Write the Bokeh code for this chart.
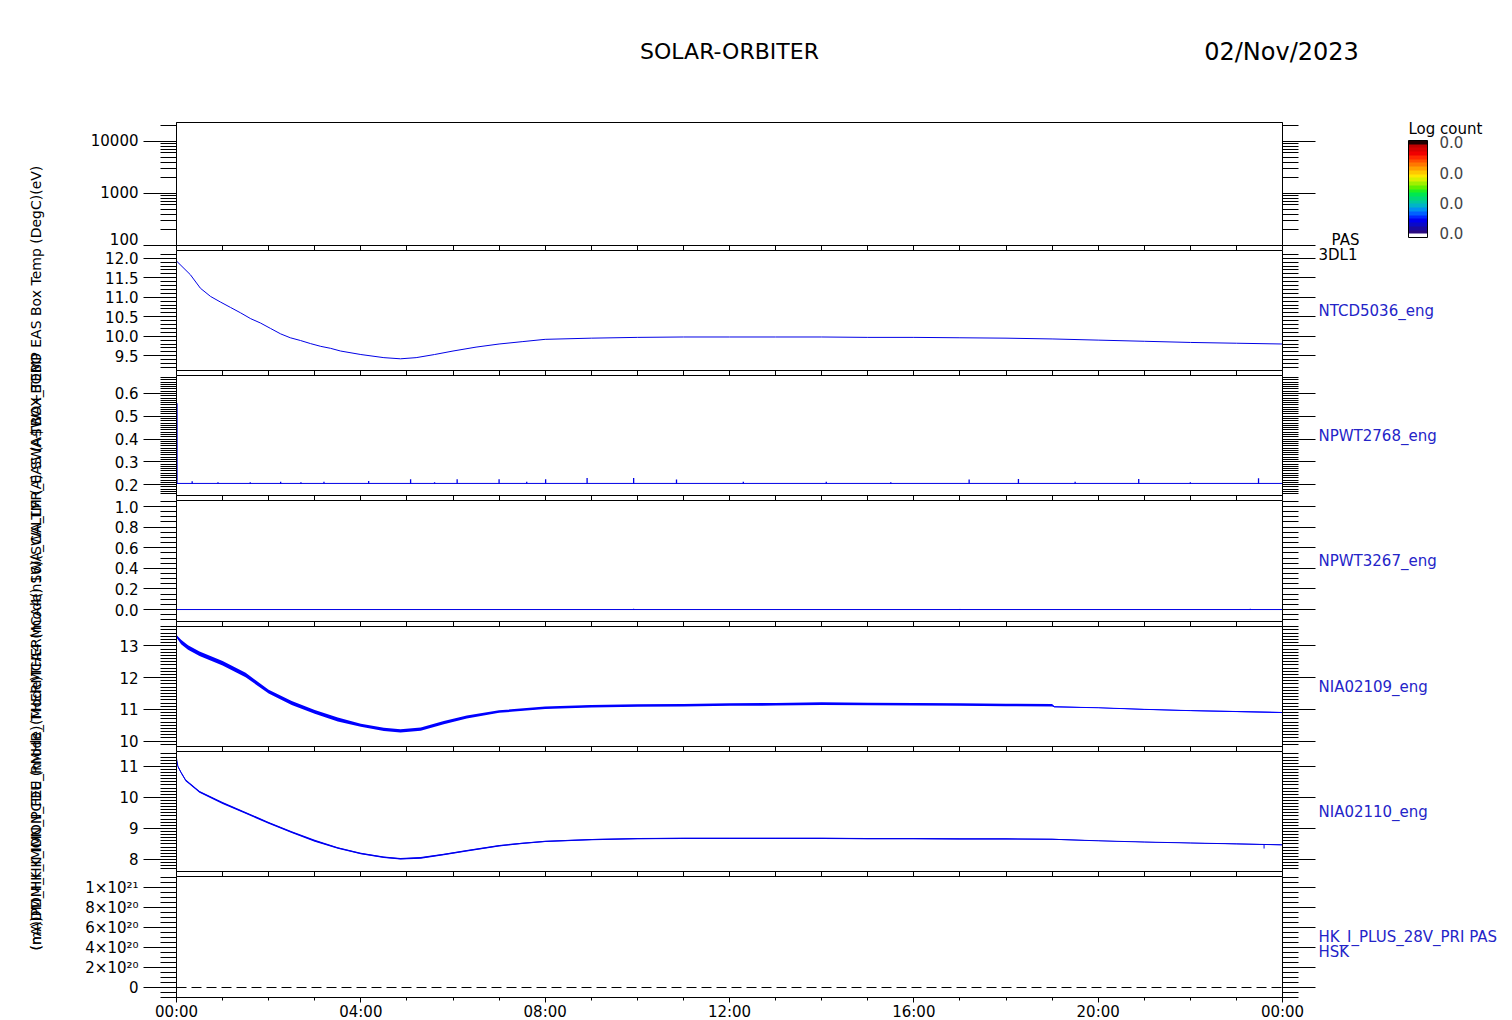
import numpy as np
from bokeh.plotting import figure
from bokeh.layouts import row, column
from bokeh.models import (Range1d, LinearAxis, LogAxis, FixedTicker, Label, ColorBar,
                          LinearColorMapper, CustomJSTickFormatter)
from bokeh.embed import file_html
from bokeh.resources import INLINE

FONT = "DejaVu Sans"
LINE = "#0000e6"
LBLC = "#2424c8"

# ---------------- data ----------------
hour_ticks = [0, 4, 8, 12, 16, 20, 24]
hour_labels = ["00:00", "04:00", "08:00", "12:00", "16:00", "20:00", "00:00"]
hour_minor = list(range(25))

# panel 1: PAS 3DL1 energy spectrogram (no data)
p1_ticks = [100, 1000, 10000]
p1_labels = ["100\n", "1000", "10000"]
p1_range = (100, 23000)

# panel 2: NTCD5036_eng
p2_t = [0.0, 0.3, 0.52, 0.74, 0.95, 1.17, 1.39, 1.61, 1.82, 2.04, 2.26, 2.47, 2.69, 2.91,
        3.13, 3.34, 3.56, 4.0, 4.5, 4.86, 5.2, 5.6, 6.0, 6.5, 7.0, 7.5, 8.0, 9.0, 10.0,
        11.0, 12.0, 13.0, 14.0, 15.0, 16.0, 17.0, 18.0, 19.0, 20.0, 21.0, 22.0, 23.0, 24.0]
p2_v = [11.93, 11.58, 11.23, 11.02, 10.88, 10.74, 10.6, 10.45, 10.34, 10.2, 10.06, 9.96,
        9.89, 9.81, 9.74, 9.69, 9.62, 9.53, 9.45, 9.42, 9.45, 9.53, 9.62, 9.72, 9.8, 9.86,
        9.92, 9.95, 9.97, 9.98, 9.98, 9.98, 9.98, 9.97, 9.97, 9.96, 9.95, 9.93, 9.9, 9.87,
        9.84, 9.82, 9.8]
p2_ticks = [9.5, 10.0, 10.5, 11.0, 11.5, 12.0]
p2_labels = ["9.5", "10.0", "10.5", "11.0", "11.5", "12.0"]
p2_range = (9.12, 12.2)

# panel 3: NPWT2768_eng
p3_base_t = [0.0, 24.0]
p3_base_v = [0.205, 0.205]
p3_spike_t = [0.01, 0.34, 0.9, 1.6, 2.26, 2.7, 3.2, 4.17, 5.08, 5.6, 6.09, 7.0, 7.6, 8.01,
              8.91, 9.92, 10.85, 12.3, 14.1, 15.5, 17.2, 18.27, 19.5, 20.88, 22.0, 23.48]
p3_spike_v = [0.557, 0.215, 0.21, 0.21, 0.212, 0.21, 0.212, 0.216, 0.223, 0.21, 0.223,
              0.223, 0.212, 0.223, 0.229, 0.229, 0.222, 0.212, 0.212, 0.21, 0.222, 0.225,
              0.212, 0.225, 0.21, 0.228]
p3_ticks = [0.2, 0.3, 0.4, 0.5, 0.6]
p3_labels = ["0.2", "0.3", "0.4", "0.5", "0.6"]
p3_range = (0.152, 0.679)

# panel 4: NPWT3267_eng
p4_t = [0.0, 24.0]
p4_v = [0.0, 0.0]
p4_blip_t = [9.92, 17.0, 23.3]
p4_blip_v = [0.008, 0.006, 0.008]
p4_ticks = [0.0, 0.2, 0.4, 0.6, 0.8, 1.0]
p4_labels = ["0.0", "0.2", "0.4", "0.6", "0.8", "1.0"]
p4_range = (-0.116, 1.058)

# panel 5: NIA02109_eng
p5_t = [0.0, 0.1, 0.25, 0.5, 0.75, 1.0, 1.5, 2.0, 2.5, 3.0, 3.5, 4.0, 4.5, 4.86, 5.3, 5.8,
        6.3, 7.0, 8.0, 9.0, 10.0, 11.0, 12.0, 13.0, 14.0, 15.0, 16.0, 17.0, 18.0, 19.0,
        19.05, 20.0, 21.0, 22.0, 23.0, 24.0]
p5_v = [13.3, 13.12, 12.95, 12.75, 12.6, 12.45, 12.08, 11.56, 11.2, 10.92, 10.68, 10.5,
        10.37, 10.32, 10.38, 10.58, 10.76, 10.93, 11.05, 11.1, 11.12, 11.13, 11.15, 11.16,
        11.18, 11.17, 11.16, 11.15, 11.14, 11.13, 11.08, 11.05, 11.0, 10.96, 10.93, 10.9]
p5_lo = [13.26, 13.05, 12.88, 12.68, 12.53, 12.38, 12.01, 11.5, 11.14, 10.86, 10.62, 10.45,
         10.32, 10.27, 10.33, 10.53, 10.71, 10.89, 11.01, 11.06, 11.08, 11.09, 11.11, 11.12,
         11.14, 11.13, 11.12, 11.11, 11.1, 11.09, 11.065, 11.04, 10.985, 10.945, 10.915, 10.885]
p5_hi = [13.34, 13.19, 13.02, 12.82, 12.67, 12.52, 12.15, 11.62, 11.26, 10.98, 10.74, 10.55,
         10.42, 10.37, 10.43, 10.63, 10.81, 10.97, 11.09, 11.14, 11.16, 11.17, 11.19, 11.2,
         11.22, 11.21, 11.2, 11.19, 11.18, 11.17, 11.095, 11.06, 11.015, 10.975, 10.945, 10.915]
p5_ticks = [10, 11, 12, 13]
p5_labels = ["10", "11", "12", "13"]
p5_range = (9.83, 13.61)

# panel 6: NIA02110_eng
p6_t = [0.0, 0.03, 0.1, 0.2, 0.5, 1.0, 1.5, 2.0, 2.5, 3.0, 3.5, 4.0, 4.5, 4.86, 5.3, 5.8,
        6.3, 7.0, 7.5, 8.0, 9.0, 10.0, 11.0, 12.0, 13.0, 14.0, 15.0, 16.0, 17.0, 18.0,
        19.0, 20.0, 21.0, 22.0, 23.0, 24.0]
p6_v = [11.25, 11.0, 10.8, 10.55, 10.18, 9.82, 9.5, 9.18, 8.88, 8.6, 8.37, 8.19, 8.07,
        8.02, 8.05, 8.16, 8.28, 8.44, 8.52, 8.58, 8.64, 8.67, 8.68, 8.68, 8.68, 8.68, 8.67,
        8.67, 8.66, 8.66, 8.65, 8.6, 8.56, 8.53, 8.5, 8.47]
p6_lo = [11.21, 10.97, 10.77, 10.52, 10.15, 9.79, 9.47, 9.15, 8.85, 8.57, 8.345, 8.165, 8.045,
         7.995, 8.025, 8.135, 8.255, 8.415, 8.5, 8.56, 8.62, 8.65, 8.66, 8.66, 8.66, 8.66, 8.65,
         8.65, 8.64, 8.64, 8.635, 8.59, 8.55, 8.52, 8.49, 8.46]
p6_hi = [11.29, 11.03, 10.83, 10.58, 10.21, 9.85, 9.53, 9.21, 8.91, 8.63, 8.395, 8.215, 8.095,
         8.045, 8.075, 8.185, 8.305, 8.465, 8.54, 8.6, 8.66, 8.69, 8.7, 8.7, 8.7, 8.7, 8.69,
         8.69, 8.68, 8.68, 8.665, 8.61, 8.57, 8.54, 8.51, 8.48]
p6_dip_t = [23.6]
p6_dip_base = [8.48]
p6_dip_v = [8.35]
p6_ticks = [8, 9, 10, 11]
p6_labels = ["8", "9", "10", "11"]
p6_range = (7.61, 11.48)

# panel 7: HK_I_PLUS_28V_PRI PAS HSK
p7_t = [0.0, 24.0]
p7_v = [0.0, 0.0]
p7_ticks = [0.0, 2e20, 4e20, 6e20, 8e20, 1e21]
p7_labels = ["0", "2×10²⁰", "4×10²⁰", "6×10²⁰", "8×10²⁰", "1×10²¹"]
p7_range = (-1e20, 1.11e21)

# colour bar
cb_ticks = [0.05, 0.36, 0.67, 0.98]
cb_labels = ["0.0", "0.0", "0.0", "0.0"]
cb_palette = ["#ffffff", "#2a0a80", "#1a0aa0", "#0a0ac8", "#0000f0", "#0028ff", "#0060ff",
              "#0090f0", "#00b4c8", "#00c8a0", "#00d878", "#00e850", "#20f020", "#60f000",
              "#a0f000", "#d8f000", "#ffe800", "#ffc800", "#ffa000", "#ff7800", "#ff5000",
              "#ff2800", "#f00000", "#d80000", "#c00000", "#200000"]

panel_names = [["PAS", "3DL1"], ["NTCD5036_eng"], ["NPWT2768_eng"], ["NPWT3267_eng"],
               ["NIA02109_eng"], ["NIA02110_eng"], ["HK_I_PLUS_28V_PRI PAS", "HSK"]]

left_texts = [
    "(nA)DM_HK_IMON_PCDU (mode) THERMCA4 (mode) SWA_CALTM (A) SWA-TBOX_TEMP EAS Box Temp (DegC)(eV)",
    "(mA)PDM_HK_IMON_FEE_RMHB_(Mode)THERMCA4(n16)(SWA_LFR_EAS (A$WA+BOBO",
]

# ---------------- layout constants ----------------
WIN_W, WIN_H = 1512, 1020
LEFT_W = 60
TITLE_H = 116
P1_TOP = 122
FW = 1106
BL = 116
BR = 36
frame_h = [123, 120, 120, 121, 120, 120, 121]
GAP = 5
BOTTOM = 23
COL_W = BL + FW + BR
RIGHT_X = LEFT_W + COL_W
RIGHT_W = WIN_W - RIGHT_X
RIGHT_H = WIN_H - TITLE_H


def style_axis(ax, tick_out, minor_out, labels):
    ax.axis_line_color = "black"
    ax.major_tick_line_color = "black"
    ax.minor_tick_line_color = "black" if minor_out > 0 else None
    ax.major_tick_out = tick_out
    ax.major_tick_in = 0
    ax.minor_tick_out = minor_out
    ax.minor_tick_in = 0
    ax.major_label_text_font = FONT
    ax.major_label_text_color = "black"
    if labels is not None:
        ax.major_label_text_font_size = "15px"
        ax.major_label_overrides = labels
    else:
        ax.formatter = CustomJSTickFormatter(code='return ""')
        ax.major_label_text_font_size = "1px"
        ax.major_label_standoff = 0


def make_panel(fh, yr, ticks, labels, minor, log=False, top=0, bottom=GAP, last=False,
               line_height=1.2):
    p = figure(frame_width=FW, frame_height=fh,
               x_range=Range1d(0, 24), y_range=Range1d(*yr),
               y_axis_type="log" if log else "linear",
               x_axis_location=None, y_axis_location=None,
               output_backend="svg", toolbar_location=None,
               min_border_left=BL, min_border_right=BR,
               min_border_top=top, min_border_bottom=bottom,
               outline_line_color="black", outline_line_width=1,
               background_fill_color="white", border_fill_color="white")
    p.xgrid.grid_line_color = None
    p.ygrid.grid_line_color = None
    Ax = LogAxis if log else LinearAxis
    la = Ax(ticker=FixedTicker(ticks=ticks, minor_ticks=minor))
    style_axis(la, 33, 16, dict(zip(ticks, labels)))
    la.major_label_standoff = 5
    la.major_label_text_line_height = line_height
    p.add_layout(la, "left")
    ra = Ax(ticker=FixedTicker(ticks=ticks, minor_ticks=minor))
    style_axis(ra, 33, 16, None)
    p.add_layout(ra, "right")
    if last:
        xa = LinearAxis(ticker=FixedTicker(ticks=hour_ticks, minor_ticks=hour_minor))
        style_axis(xa, 5, 3, dict(zip(hour_ticks, hour_labels)))
        xa.major_label_standoff = 0
    else:
        xa = LinearAxis(ticker=FixedTicker(ticks=hour_minor))
        style_axis(xa, 5, 0, None)
    p.add_layout(xa, "below")
    return p


def plain_fig(w, h):
    f = figure(width=w, height=h, x_range=Range1d(0, 1), y_range=Range1d(0, 1),
               x_axis_location=None, y_axis_location=None, output_backend="svg",
               toolbar_location=None, min_border=0, outline_line_color=None,
               border_fill_color="white", background_fill_color="white")
    f.xgrid.grid_line_color = None
    f.ygrid.grid_line_color = None
    return f


def txt(f, x, y, text, size="15px", color="black", align="left", angle=0.0):
    f.add_layout(Label(x=x, y=y, x_units="screen", y_units="screen", text=text,
                       text_font=FONT, text_font_size=size, text_color=color,
                       text_align=align, text_baseline="middle", angle=angle))


# ---------------- panels ----------------
p1_minor = [m * 10 ** e for e in (2, 3) for m in range(2, 10)] + [20000]
p1 = make_panel(frame_h[0], p1_range, p1_ticks, p1_labels, p1_minor, log=True,
                top=P1_TOP - TITLE_H, line_height=0.1)

p2 = make_panel(frame_h[1], p2_range, p2_ticks, p2_labels,
                list(np.round(np.arange(9.2, 12.15, 0.1), 2)))
p2.line(p2_t, p2_v, line_color=LINE, line_width=1)

p3 = make_panel(frame_h[2], p3_range, p3_ticks, p3_labels,
                list(np.round(np.arange(0.16, 0.675, 0.01), 3)))
p3.line(p3_base_t, p3_base_v, line_color=LINE, line_width=1)
p3.segment(x0=p3_spike_t, y0=[p3_base_v[0]] * len(p3_spike_t), x1=p3_spike_t, y1=p3_spike_v,
           line_color=LINE, line_width=1.3)

p4 = make_panel(frame_h[3], p4_range, p4_ticks, p4_labels,
                list(np.round(np.arange(-0.1, 1.051, 0.05), 3)))
p4.line(p4_t, p4_v, line_color=LINE, line_width=1)
p4.segment(x0=p4_blip_t, y0=[0.0] * len(p4_blip_t), x1=p4_blip_t, y1=p4_blip_v,
           line_color=LINE, line_width=1)

p5 = make_panel(frame_h[4], p5_range, p5_ticks, p5_labels,
                list(np.round(np.arange(9.9, 13.61, 0.1), 2)))
p5.varea(x=p5_t, y1=p5_lo, y2=p5_hi, fill_color="#0000ff")
p5.line(p5_t, p5_v, line_color="#0000ff", line_width=1)

p6 = make_panel(frame_h[5], p6_range, p6_ticks, p6_labels,
                list(np.round(np.arange(7.7, 11.45, 0.1), 2)))
p6.varea(x=p6_t, y1=p6_lo, y2=p6_hi, fill_color="#0000ff")
p6.line(p6_t, p6_v, line_color=LINE, line_width=1)
p6.segment(x0=p6_dip_t, y0=p6_dip_base, x1=p6_dip_t, y1=p6_dip_v, line_color=LINE, line_width=1)

p7 = make_panel(frame_h[6], p7_range, p7_ticks, p7_labels,
                [i * 0.5e20 for i in range(-2, 23)], bottom=BOTTOM, last=True)
p7.line(p7_t, p7_v, line_color="black", line_width=1, line_dash="10 5")

# ---------------- title strip ----------------
title_fig = plain_fig(WIN_W - LEFT_W, TITLE_H)
txt(title_fig, 729 - LEFT_W, TITLE_H - 51, "SOLAR-ORBITER", size="22px", align="center")
txt(title_fig, 1281 - LEFT_W, TITLE_H - 51, "02/Nov/2023", size="24px", align="center")

# ---------------- right strip: panel names and colour bar ----------------
right_fig = plain_fig(RIGHT_W, RIGHT_H)


def ry(Y):
    # absolute page y (from top) -> right strip y (from bottom)
    return WIN_H - Y


tops = [P1_TOP]
for fh in frame_h[:-1]:
    tops.append(tops[-1] + fh + GAP)
for i, names in enumerate(panel_names):
    if i == 0:
        continue
    yc = ry(tops[i] + frame_h[i] / 2)
    for j, nm in enumerate(names):
        txt(right_fig, 0, yc - 15 * j, nm, color=LBLC)
# PAS / 3DL1 labels sit at the foot of the first panel
txt(right_fig, 1345 - RIGHT_X, ry(239), panel_names[0][0], align="center")
txt(right_fig, 0, ry(254), panel_names[0][1])
txt(right_fig, 1408 - RIGHT_X, ry(128), "Log count")
mapper = LinearColorMapper(palette=cb_palette, low=0, high=1)
cb = ColorBar(color_mapper=mapper, location=(1408 - RIGHT_X, ry(237)),
              width=19, height=97, padding=0,
              ticker=FixedTicker(ticks=cb_ticks),
              major_label_overrides=dict(zip(cb_ticks, cb_labels)),
              major_label_text_font=FONT, major_label_text_font_size="15px",
              label_standoff=12, bar_line_color="black", major_tick_line_color=None,
              background_fill_color=None, border_line_color=None)
right_fig.add_layout(cb)

# ---------------- left strip: overlapping rotated axis titles ----------------
left_fig = plain_fig(LEFT_W, WIN_H)
for t in left_texts:
    txt(left_fig, 35, WIN_H - 950, t, size="14px", angle=np.pi / 2)

layout = row(left_fig,
             column(title_fig,
                    row(column(p1, p2, p3, p4, p5, p6, p7), right_fig)))
open("out.html", "w").write(file_html(layout, INLINE))
